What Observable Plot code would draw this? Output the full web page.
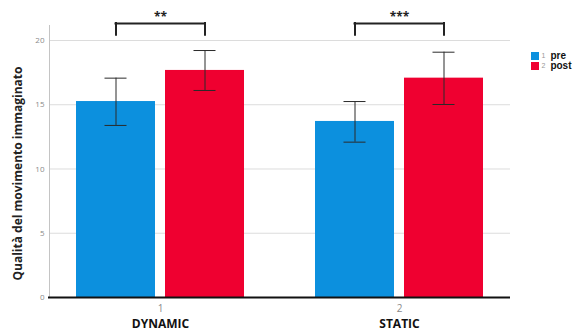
<!DOCTYPE html>
<html>
<head>
<meta charset="utf-8">
<script src="https://cdn.jsdelivr.net/npm/d3@7"></script>
<script src="https://cdn.jsdelivr.net/npm/@observablehq/plot@0.6"></script>
<style>
  html, body { margin: 0; padding: 0; background: #fff; }
  #wrap { position: relative; width: 577px; height: 336px; overflow: hidden; font-family: "Open Sans", sans-serif; }
  #legend { position: absolute; left: 531px; top: 51px; font-family: "Liberation Sans", Arial, sans-serif; }
  .lg-row { display: flex; align-items: center; height: 10px; line-height: 10px; white-space: nowrap; }
  .lg-sw { width: 8px; height: 8px; margin-right: 2.5px; flex: none; }
  .lg-code { font-size: 7px; line-height: 8px; color: #999; margin-right: 5px; }
  .lg-name { font-size: 10px; line-height: 10px; font-weight: bold; color: #111; }
</style>
</head>
<body>
<div id="wrap"><div id="legend"></div></div>
<script>
// ---- data ----
const groups = ["1", "2"];
const groupNames = ["DYNAMIC", "STATIC"];
const seriesNames = ["pre", "post"];
const seriesCodes = ["1", "2"];
const preMean = [15.25, 13.70];
const preLow = [13.39, 12.09];
const preHigh = [17.07, 15.25];
const postMean = [17.67, 17.07];
const postLow = [16.11, 15.02];
const postHigh = [19.22, 19.09];
const stars = ["**", "***"];
const yTicks = [0, 5, 10, 15, 20];
const yLabel = "Qualità del movimento immaginato";
const colors = ["#0C90DE", "#EF0030"];
const bracketLow = 20.4;
const bracketTop = 21.32;
const starLevel = 22.0;

// ---- tables ----
const pre = groups.map((g, i) => ({group: g, mean: preMean[i], lo: preLow[i], hi: preHigh[i]}));
const post = groups.map((g, i) => ({group: g, mean: postMean[i], lo: postLow[i], hi: postHigh[i]}));
const grp = groups.map((g, i) => ({group: g, name: groupNames[i], stars: stars[i]}));

const errStroke = "#2a2a2a";
const half = 44.5; // offset of each bar's center from the group center

const chart = Plot.plot({
  width: 577,
  height: 336,
  marginTop: 25,
  marginBottom: 39,
  marginLeft: 49,
  marginRight: 67,
  style: {fontFamily: "'Open Sans', sans-serif", background: "white"},
  x: {domain: groups, paddingInner: 0.29707, paddingOuter: 0.11297, axis: null},
  y: {domain: [0, 21.167], axis: null},
  marks: [
    Plot.ruleY(yTicks.filter(v => v > 0), {stroke: "#dcdcdc", strokeWidth: 1}),
    Plot.frame({anchor: "left", stroke: "#c4c4c4"}),
    Plot.text(yTicks, {y: d => d, text: d => String(d), frameAnchor: "left", dx: -5, textAnchor: "end", fontSize: 8, fill: "#8a8a8a"}),
    // bars
    Plot.barY(pre, {x: "group", y: "mean", fill: colors[0], insetRight: 89}),
    Plot.barY(post, {x: "group", y: "mean", fill: colors[1], insetLeft: 89}),
    // error bars
    Plot.ruleX(pre, {x: "group", y1: "lo", y2: "hi", dx: -half, stroke: errStroke, strokeWidth: 1}),
    Plot.ruleX(post, {x: "group", y1: "lo", y2: "hi", dx: half, stroke: errStroke, strokeWidth: 1}),
    Plot.tickY(pre, {x: "group", y: "lo", insetLeft: 28.5, insetRight: 117.5, stroke: errStroke}),
    Plot.tickY(pre, {x: "group", y: "hi", insetLeft: 28.5, insetRight: 117.5, stroke: errStroke}),
    Plot.tickY(post, {x: "group", y: "lo", insetLeft: 117.5, insetRight: 28.5, stroke: errStroke}),
    Plot.tickY(post, {x: "group", y: "hi", insetLeft: 117.5, insetRight: 28.5, stroke: errStroke}),
    // baseline
    Plot.ruleY([0], {stroke: "#111", strokeWidth: 2, insetLeft: -1}),
    // significance brackets
    Plot.tickY(grp, {x: "group", y: () => bracketTop, insetLeft: 39.5, insetRight: 39.5, stroke: "#222", strokeWidth: 2, strokeLinecap: "square"}),
    Plot.ruleX(grp, {x: "group", y1: () => bracketLow, y2: () => bracketTop, dx: -half, stroke: "#222", strokeWidth: 2, strokeLinecap: "square"}),
    Plot.ruleX(grp, {x: "group", y1: () => bracketLow, y2: () => bracketTop, dx: half, stroke: "#222", strokeWidth: 2, strokeLinecap: "square"}),
    Plot.text(grp, {x: "group", y: () => starLevel, text: "stars", fontSize: 12, fontWeight: "bold", fill: "#222", dy: 2}),
    // category labels
    Plot.text(grp, {x: "group", text: "group", frameAnchor: "bottom", dy: 14, fontSize: 10, fill: "#8a8a8a"}),
    Plot.text(grp, {x: "group", text: "name", frameAnchor: "bottom", dy: 30, fontSize: 12, fontWeight: "bold", fill: "#111"}),
    // y-axis title
    Plot.text([yLabel], {text: d => d, frameAnchor: "left", textAnchor: "middle", dx: -31, dy: 12, rotate: -90, fontSize: 12, fontWeight: "bold", fill: "#222"})
  ]
});

const wrap = document.getElementById("wrap");
wrap.insertBefore(chart, wrap.firstChild);

const legend = d3.select("#legend");
seriesNames.forEach((s, i) => {
  const row = legend.append("div").attr("class", "lg-row");
  row.append("div").attr("class", "lg-sw").style("background", colors[i]);
  row.append("span").attr("class", "lg-code").text(seriesCodes[i]);
  row.append("span").attr("class", "lg-name").text(s);
});
</script>
</body>
</html>
